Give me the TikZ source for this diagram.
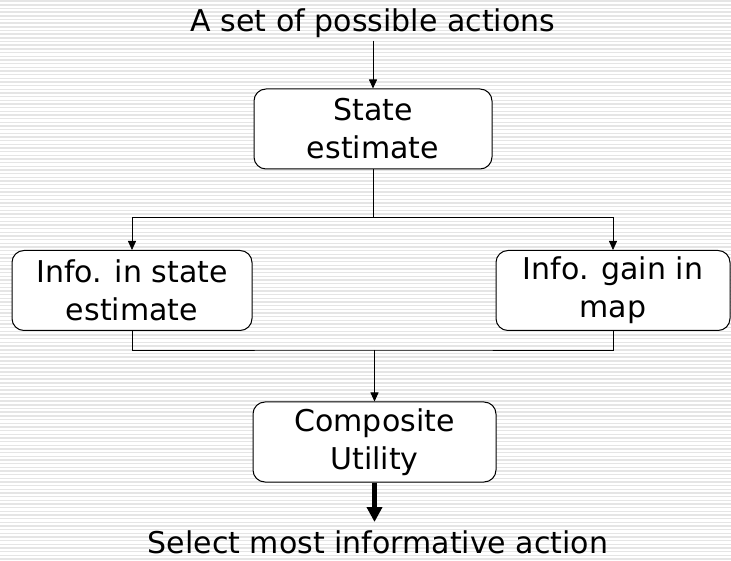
\documentclass[tikz,border=0pt]{standalone}
\usepackage{fontspec}
\setmainfont{DejaVu Sans}
\usepackage{tikz}
\usetikzlibrary{arrows.meta}
\definecolor{stripe}{gray}{0.9}

\begin{document}
\begin{tikzpicture}[x=1pt,y=1pt,
    box/.style={draw, line width=1pt, rounded corners=12pt, fill=white, align=center,
      minimum height=80pt, inner sep=2pt, font=\fontsize{30}{38}\selectfont},
    lbl/.style={inner sep=3pt, font=\fontsize{30}{38}\selectfont},
    link/.style={-{Triangle[length=9pt,width=8pt]}, line width=0.8pt}]
    % background
    \useasboundingbox (0,0) rectangle (731,560);
    \fill[white] (0,0) rectangle (731,560);
    \foreach \y in {1,4.67,...,560}
        \draw[stripe, line width=1.4pt] (0,\y) -- (731,\y);

    % boxes
    \node[lbl] (acts) at (373,537) {A set of possible actions};
    \node[box, minimum width=238pt] (state) at (373,431) {State\\estimate};
    \node[box, minimum width=240pt] (info) at (132,269.5) {Info. in state\\estimate};
    \node[box, minimum width=234pt] (gain) at (613,269.5) {Info. gain in\\map};
    \node[box, minimum width=243pt] (comp) at (374.5,118) {Composite\\Utility};
    \node[lbl, anchor=base] (sel) at (378,7) {Select most informative action};

    % connectors
    \coordinate (split) at (373,343);
    \coordinate (merge) at (374.5,210);
    \coordinate (tip) at (374.5,38);
    \draw[link] (acts.south -| state.north) -- (state.north);
    \draw[line width=0.8pt] (state.south) -- (split);
    \draw[link] (split) -| (info.north);
    \draw[link] (split) -| (gain.north);
    \draw[line width=0.8pt] (info.south) |- (merge) -| (gain.south);
    \draw[link] (merge) -- (comp.north);
    \draw[-{Triangle[length=15pt,width=15pt]}, line width=4.5pt] (comp.south) -- (tip);
\end{tikzpicture}
\end{document}
